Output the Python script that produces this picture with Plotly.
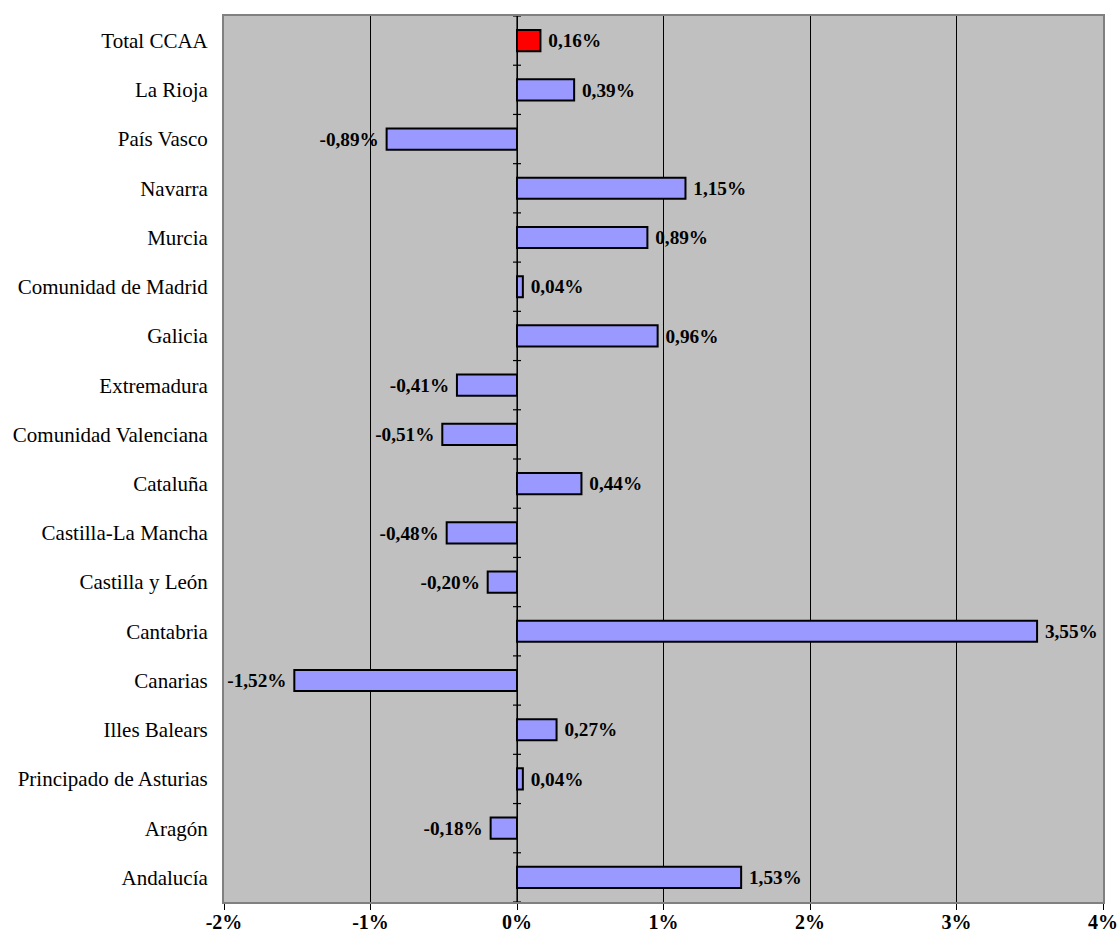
import plotly.graph_objects as go

# Regions, bottom to top as drawn on the category axis
regions = [
    "Andalucía", "Aragón", "Principado de Asturias", "Illes Balears", "Canarias",
    "Cantabria", "Castilla y León", "Castilla-La Mancha", "Cataluña",
    "Comunidad Valenciana", "Extremadura", "Galicia", "Comunidad de Madrid",
    "Murcia", "Navarra", "País Vasco", "La Rioja", "Total CCAA",
]
# Percentage change per region
change_pct = [
    1.53, -0.18, 0.04, 0.27, -1.52,
    3.55, -0.20, -0.48, 0.44,
    -0.51, -0.41, 0.96, 0.04,
    0.89, 1.15, -0.89, 0.39, 0.16,
]
x_ticks = [-2, -1, 0, 1, 2, 3, 4]
x_tick_labels = ["-2%", "-1%", "0%", "1%", "2%", "3%", "4%"]


def fmt(v):
    s = f"{v:.2f}".replace(".", ",") + "%"
    # small gap between bar end and its label
    return s + " " if v < 0 else " " + s


labels = [fmt(v) for v in change_pct]
colors = ["#FF0000" if r == "Total CCAA" else "#9999FF" for r in regions]

FONT = "Liberation Serif, Times New Roman, serif"

fig = go.Figure(
    go.Bar(
        x=change_pct,
        y=regions,
        orientation="h",
        marker=dict(color=colors, line=dict(color="black", width=2)),
        text=labels,
        textposition="outside",
        textfont=dict(family=FONT, size=20, color="black", weight="bold"),
        cliponaxis=False,
        width=0.43,
    )
)

# Zero axis line with category tick marks
shapes = [
    dict(type="line", xref="x", yref="y", x0=0, x1=0, y0=-0.5, y1=len(regions) - 0.5,
         line=dict(color="black", width=1.2), layer="above")
]
for i in range(len(regions) + 1):
    shapes.append(
        dict(type="line", xref="x", yref="y", xsizemode="pixel", xanchor=0,
             x0=-4, x1=4, y0=i - 0.5, y1=i - 0.5,
             line=dict(color="black", width=1.2), layer="above")
    )

fig.update_layout(
    width=1119, height=941,
    margin=dict(l=224, r=16, t=16, b=39, autoexpand=False),
    paper_bgcolor="white",
    plot_bgcolor="#C0C0C0",
    showlegend=False,
    shapes=shapes,
    font=dict(family=FONT, size=20, color="black"),
)
fig.update_xaxes(
    range=[-2, 4],
    tickvals=x_ticks,
    ticktext=x_tick_labels,
    tickfont=dict(family=FONT, size=20, color="black", weight="bold"),
    showgrid=True, gridcolor="black", gridwidth=1,
    zeroline=False,
    showline=True, linecolor="#808080", linewidth=2, mirror=True,
    ticks="outside", ticklen=6, tickcolor="black", tickwidth=1,
    ticklabelstandoff=-5, automargin=False,
)
fig.update_yaxes(
    range=[-0.5, len(regions) - 0.5],
    tickfont=dict(family=FONT, size=21, color="black"),
    showgrid=False, zeroline=False,
    showline=True, linecolor="#808080", linewidth=2, mirror=True,
    ticks="", ticklabelstandoff=10, automargin=False,
)

fig.write_html("out.html")
